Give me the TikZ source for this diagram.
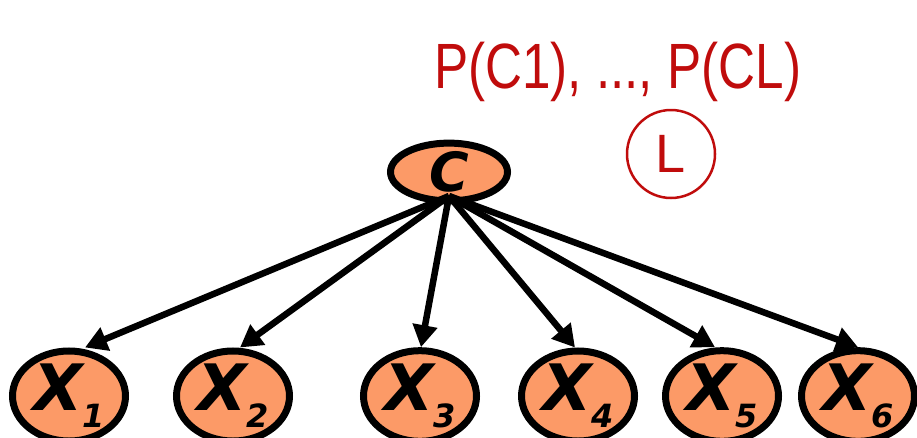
\documentclass[tikz,border=0pt]{standalone}
\usepackage{fontspec}
\setmainfont{DejaVu Sans}
\newfontfamily\notefont{Liberation Sans}
\usetikzlibrary{shapes.geometric,arrows.meta}
\definecolor{nodefill}{HTML}{FC9A67}
\definecolor{inkred}{HTML}{C00C0C}
\tikzset{
  varnode/.style={ellipse, draw=black, line width=7pt, fill=nodefill,
    minimum width=113pt, minimum height=71pt, inner sep=0pt,
    font=\bfseries\itshape\fontsize{64}{64}\selectfont},
  classnode/.style={varnode, minimum width=117pt, minimum height=50pt,
    font=\bfseries\itshape\fontsize{54}{54}\selectfont},
  edge/.style={line width=6.5pt, -{Triangle[length=22pt,width=24pt]}},
  ink/.style={text=inkred, font=\notefont\fontsize{64}{64}\selectfont, inner sep=0pt}
}
\newcommand{\xvar}[1]{X\kern-1pt\raisebox{-17pt}{\fontsize{32}{32}\selectfont #1}}
\begin{document}
\begin{tikzpicture}[x=1pt,y=-1pt]
  \useasboundingbox (0,0) rectangle (917,437);
  % class node and its children
  \node[classnode] (C) at (449,172) {C};
  \node[varnode] (X1) at (69,396) {\xvar{1}};
  \node[varnode] (X2) at (233,396) {\xvar{2}};
  \node[varnode] (X3) at (420,396) {\xvar{3}};
  \node[varnode] (X4) at (578,396) {\xvar{4}};
  \node[varnode] (X5) at (722,396) {\xvar{5}};
  \node[varnode] (X6) at (858,396) {\xvar{6}};
  \coordinate (hub) at (449,196);
  \foreach \k/\dx in {1/16,2/7,3/1,4/-3,5/-7,6/0} {
    \draw[edge] (hub) -- ([xshift=\dx pt]X\k.north);
  }
  % handwritten note: class prior
  \node[ink, xscale=0.8, anchor=west] (prior) at (434,72) {P(C1), ..., P(CL)};
  \node[circle, draw=inkred, line width=2.5pt, minimum size=88pt, inner sep=0pt,
        text=inkred, font=\notefont\fontsize{54}{54}\selectfont] (nL) at (671,154) {L};
\end{tikzpicture}
\end{document}
